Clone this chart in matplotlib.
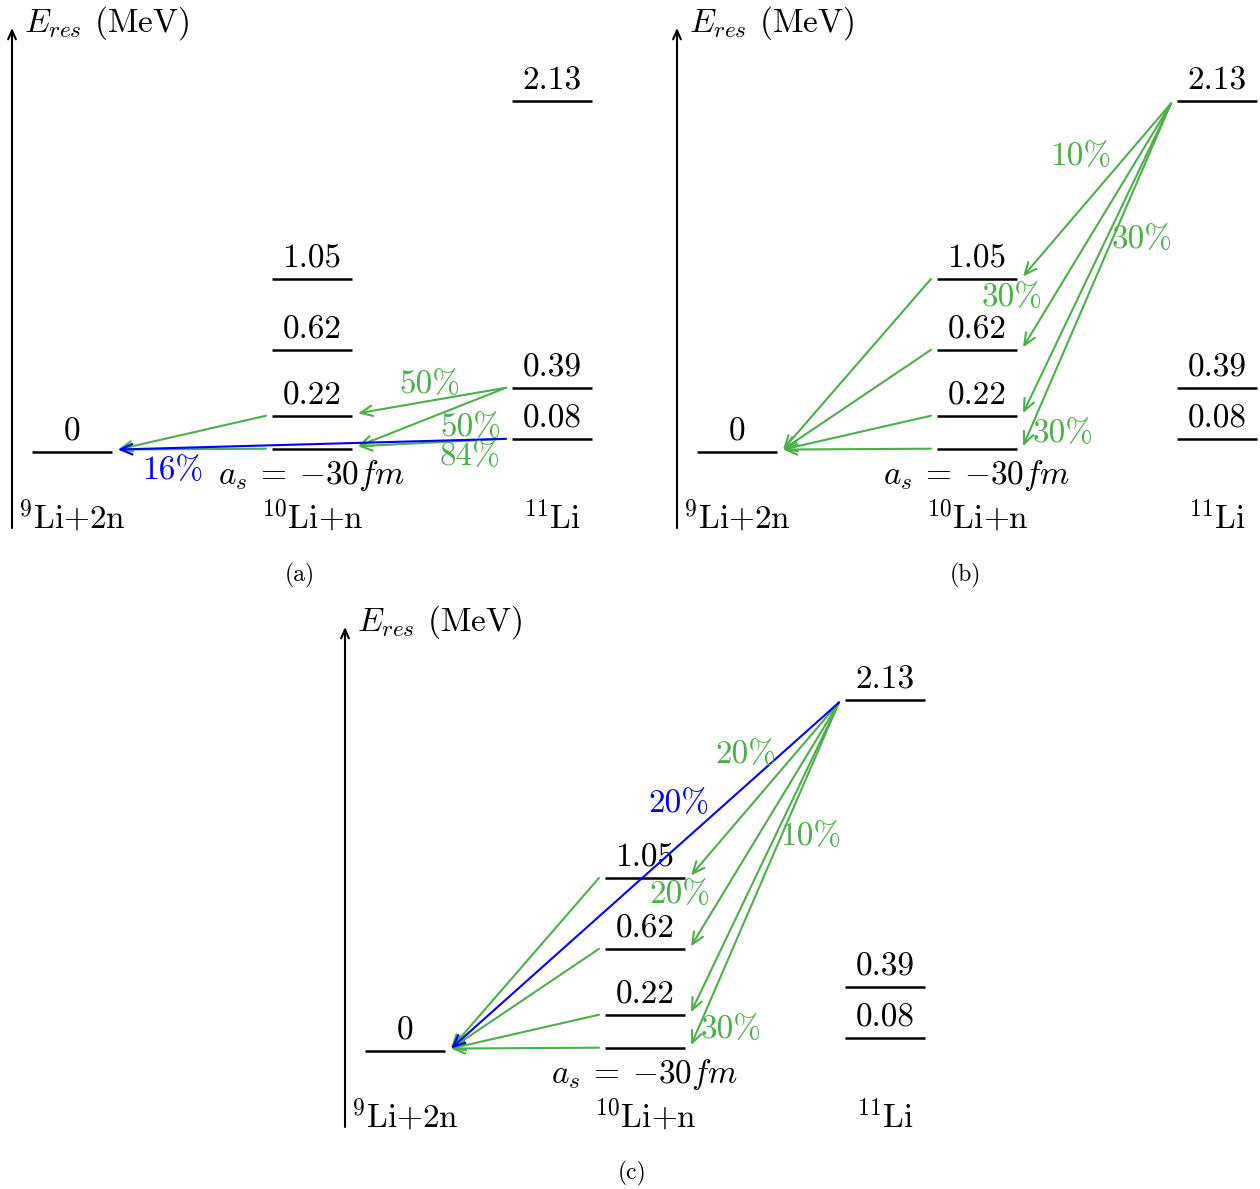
import matplotlib
matplotlib.use('Agg')
import matplotlib.pyplot as plt
from matplotlib.patches import FancyArrowPatch

plt.rcParams['font.family'] = ['cmr10', 'DejaVu Serif']
plt.rcParams['mathtext.fontset'] = 'cm'
plt.rcParams['axes.formatter.use_mathtext'] = True

# ---------------- data ----------------
column_labels = [r'$^{9}$Li+2n', r'$^{10}$Li+n', r'$^{11}$Li']
levels_9Li = [0.0]
labels_9Li = ['0']
levels_10Li = [0.02, 0.22, 0.62, 1.05]
labels_10Li = ['', '0.22', '0.62', '1.05']
levels_11Li = [0.08, 0.39, 2.13]
labels_11Li = ['0.08', '0.39', '2.13']
scattering_length = -30  # fm
panel_names = ['(a)', '(b)', '(c)']

# transitions: (from column, from energy, to column, to energy, percent, highlighted)
trans_a = [(2, 0.39, 1, 0.22, 50, False),
           (2, 0.39, 1, 0.02, 50, False),
           (2, 0.08, 1, 0.02, 84, False),
           (1, 0.22, 0, 0.0, None, False),
           (1, 0.02, 0, 0.0, None, False),
           (2, 0.08, 0, 0.0, 16, True)]
trans_b = [(2, 2.13, 1, 1.05, 10, False),
           (2, 2.13, 1, 0.62, 30, False),
           (2, 2.13, 1, 0.22, 30, False),
           (2, 2.13, 1, 0.02, 30, False),
           (1, 1.05, 0, 0.0, None, False),
           (1, 0.62, 0, 0.0, None, False),
           (1, 0.22, 0, 0.0, None, False),
           (1, 0.02, 0, 0.0, None, False)]
trans_c = [(2, 2.13, 1, 1.05, 20, False),
           (2, 2.13, 1, 0.62, 20, False),
           (2, 2.13, 1, 0.22, 10, False),
           (2, 2.13, 1, 0.02, 30, False),
           (1, 1.05, 0, 0.0, None, False),
           (1, 0.62, 0, 0.0, None, False),
           (1, 0.22, 0, 0.0, None, False),
           (1, 0.02, 0, 0.0, None, False),
           (2, 2.13, 0, 0.0, 20, True)]

# ---------------- layout ----------------
# label positions (column units, MeV) for labelled transitions, in order
labpos_a = [(1.49, 0.41), (1.66, 0.15), (1.66, -0.03), (0.42, -0.11)]
labpos_b = [(1.43, 1.79), (1.146, 0.94), (1.69, 1.29), (1.36, 0.115)]
labpos_c = [(1.42, 1.80), (1.146, 0.95), (1.69, 1.30), (1.36, 0.13), (1.14, 1.50)]

W, H = 1260, 1189
DPI = 100
PX_PER_MEV = 164.8
AX_W, AX_H = 600, 500
panel_origin = [(12, 28), (677, 28), (345, 627)]   # axes left/top in pixels
caption_pos = [(300, 575), (965, 575), (632, 1173)]
HALF = 1 / 6.0
GAP = 0.025
FS = 24
GREEN = '#4daf4a'
BLUE = '#0000ff'

fig = plt.figure(figsize=(W / DPI, H / DPI), dpi=DPI)

levels = [levels_9Li, levels_10Li, levels_11Li]
labels = [labels_9Li, labels_10Li, labels_11Li]
trans_all = [trans_a, trans_b, trans_c]
labpos_all = [labpos_a, labpos_b, labpos_c]

ylo = -76 / PX_PER_MEV
yhi = ylo + AX_H / PX_PER_MEV

for p in range(3):
    x0, y0 = panel_origin[p]
    ax = fig.add_axes([x0 / W, 1 - (y0 + AX_H) / H, AX_W / W, AX_H / H])
    ax.set_xlim(-0.25, 2.25)
    ax.set_ylim(ylo, yhi)
    ax.axis('off')

    # energy axis
    ax.annotate('', xy=(0, 1), xytext=(0, 0), xycoords='axes fraction',
                arrowprops=dict(arrowstyle='->,head_length=0.45,head_width=0.2',
                                lw=1.5, color='black', shrinkA=0, shrinkB=0,
                                mutation_scale=14))
    ax.text(-0.2, yhi + 0.03, r'$E_{res}$ (MeV)', fontsize=FS, ha='left',
            va='center', clip_on=False)

    # levels
    for c in range(3):
        for e, lab in zip(levels[c], labels[c]):
            ax.plot([c - HALF, c + HALF], [e, e], color='black', lw=1.8,
                    solid_capstyle='butt')
            if lab:
                ax.annotate(lab, (c, e), xytext=(0, 8), textcoords='offset points',
                            ha='center', va='baseline', fontsize=FS)
        ax.text(c, -0.465, column_labels[c], ha='center', va='baseline',
                fontsize=FS, clip_on=False)

    ax.text(1, -0.14, r'$a_s\:=\:{-}%dfm$' % abs(scattering_length), ha='center',
            va='center', fontsize=FS)

    # transitions
    k = 0
    for (c1, e1, c2, e2, pct, hl) in trans_all[p]:
        col = BLUE if hl else GREEN
        start = (c1 - HALF - GAP, e1 - (0.015 if c1 == 2 and e1 > 2 else 0.0))
        end = (c2 + HALF + GAP, e2 + 0.015)
        arr = FancyArrowPatch(start, end,
                              arrowstyle='->,head_length=0.5,head_width=0.22',
                              mutation_scale=17, lw=1.5, color=col,
                              shrinkA=0, shrinkB=0, zorder=4 if hl else 3)
        ax.add_patch(arr)
        if pct is not None:
            lx, ly = labpos_all[p][k]
            k += 1
            ax.text(lx, ly, '%d%%' % pct, color=col, ha='center', va='center',
                    fontsize=FS, zorder=5)

for name, (cx, cy) in zip(panel_names, caption_pos):
    fig.text(cx / W, 1 - cy / H, name, ha='center', va='center', fontsize=17)

fig.savefig('out.png', dpi=DPI)
